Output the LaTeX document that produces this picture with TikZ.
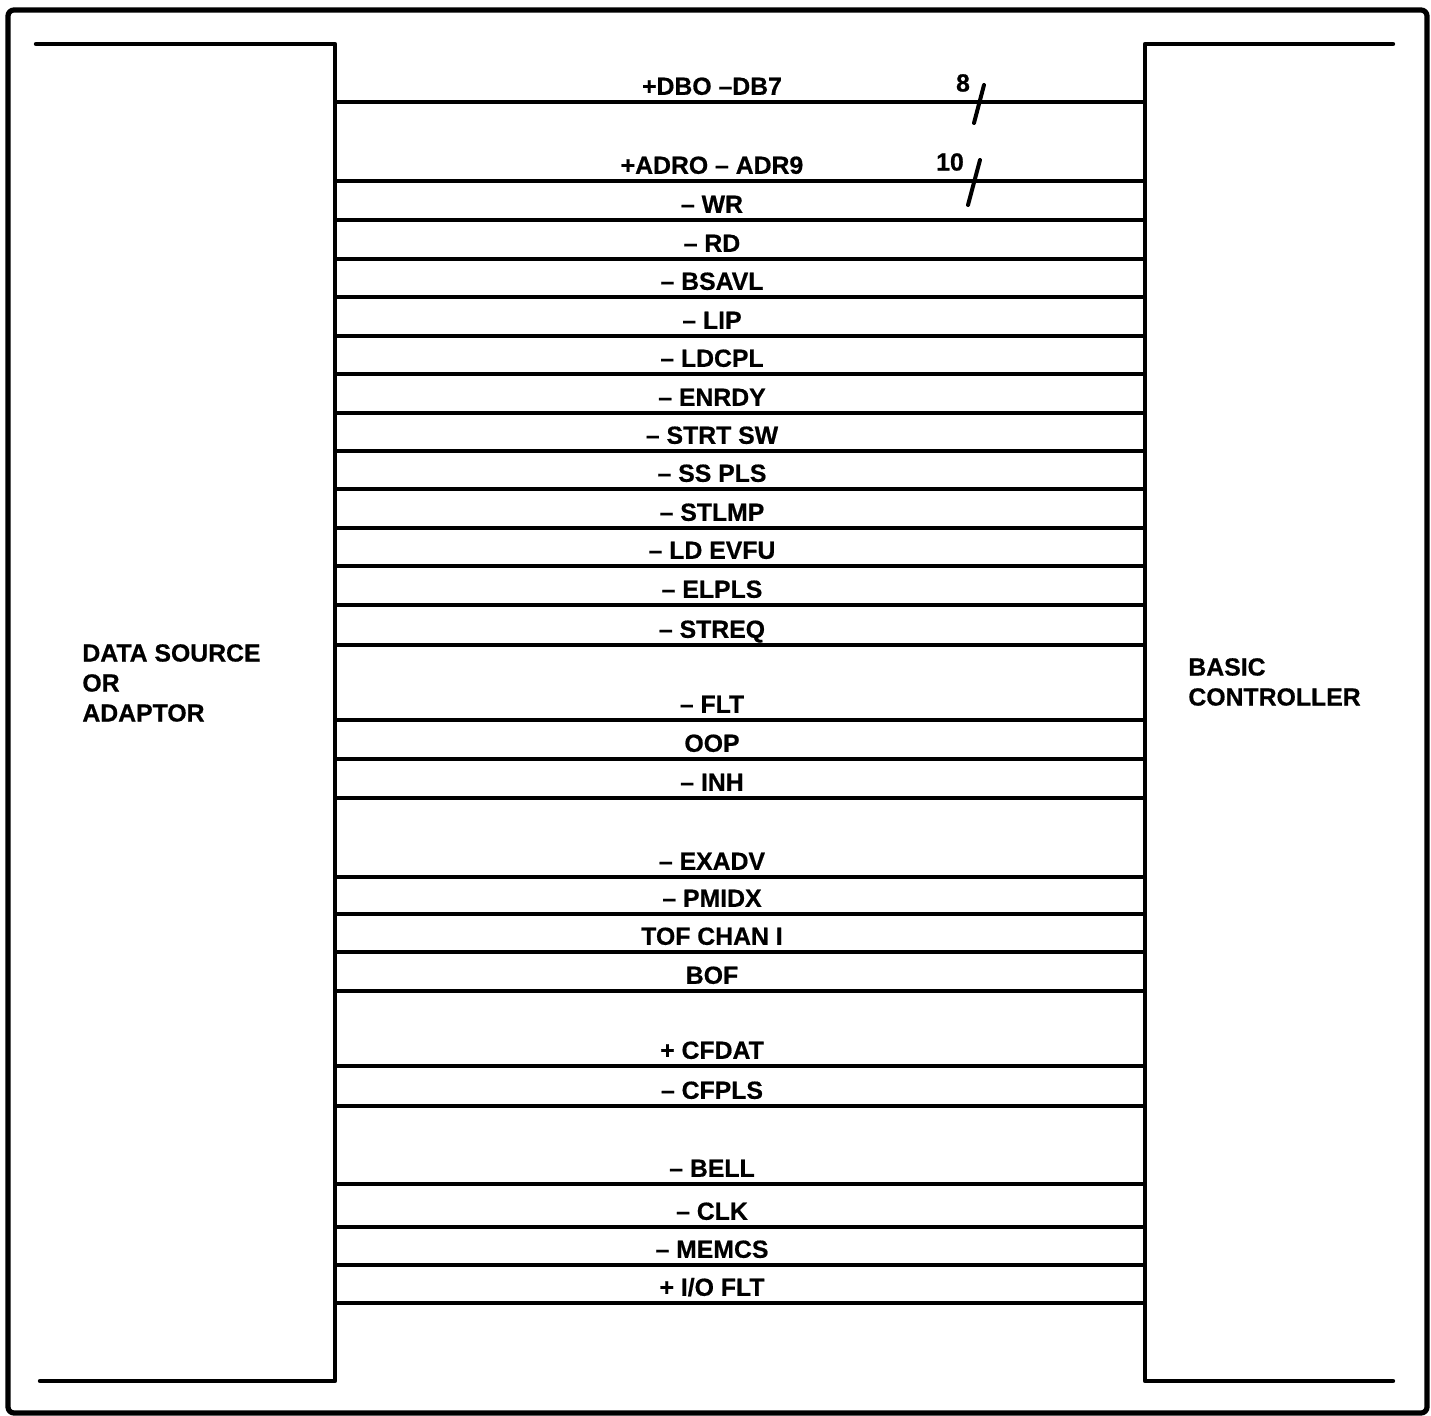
\documentclass[tikz,border=0pt]{standalone}
\usepackage{fontspec}
\setmainfont{Liberation Sans}[BoldFeatures={FakeBold=0.6}]
\usetikzlibrary{positioning}

\begin{document}
\begin{tikzpicture}[
  x=0.5pt,y=-0.5pt,
  every node/.style={font=\fontsize{12.4}{15}\selectfont\bfseries, inner sep=0pt},
  frame/.style={line width=2.6pt, rounded corners=3pt},
  block/.style={line width=2.2pt, line cap=round, line join=round},
  sig/.style={line width=2pt},
  siglabel/.style={anchor=base, xshift=-14pt, yshift=3.6pt},
  busmark/.style={line width=2pt, line cap=round}
]
\useasboundingbox (0,0) rectangle (1431,1416);
\draw[frame] (8,10) rectangle (1427,1413);

% the two units
\coordinate (srcNE) at (335,44);
\coordinate (ctlNW) at (1145,44);
\draw[block] (36,44) -- (srcNE) -- (335,1381) -- (40,1381);
\draw[block] (1393,44) -- (ctlNW) -- (1145,1381) -- (1393,1381);
\node[anchor=west, align=left] (source) at (82,683) {DATA SOURCE\\OR\\ADAPTOR};
\node[anchor=west, align=left] (control) at (1188,682) {BASIC\\CONTROLLER};

% interface lines
\foreach \y/\txt [count=\i] in {
  102/{+DBO --DB7}, 181/{+ADRO -- ADR9}, 220/{-- WR}, 259/{-- RD},
  297/{-- BSAVL}, 336/{-- LIP}, 374/{-- LDCPL}, 413/{-- ENRDY},
  451/{-- STRT SW}, 489/{-- SS PLS}, 528/{-- STLMP}, 566/{-- LD EVFU},
  605/{-- ELPLS}, 645/{-- STREQ}, 720/{-- FLT}, 759/{OOP},
  798/{-- INH}, 877/{-- EXADV}, 914/{-- PMIDX}, 952/{TOF CHAN I},
  991/{BOF}, 1066/{+ CFDAT}, 1106/{-- CFPLS}, 1184/{-- BELL},
  1227/{-- CLK}, 1265/{-- MEMCS}, 1303/{+ I/O FLT}}
  \draw[sig] (srcNE |- 0,\y) -- node[siglabel] (lbl\i) {\txt} (ctlNW |- 0,\y);

% bus widths
\node (w8) at (963,83) {8};
\draw[busmark] (984,85) -- (974,123);
\node (w10) at (950,162) {10};
\draw[busmark] (980,160) -- (968,205);
\end{tikzpicture}
\end{document}
